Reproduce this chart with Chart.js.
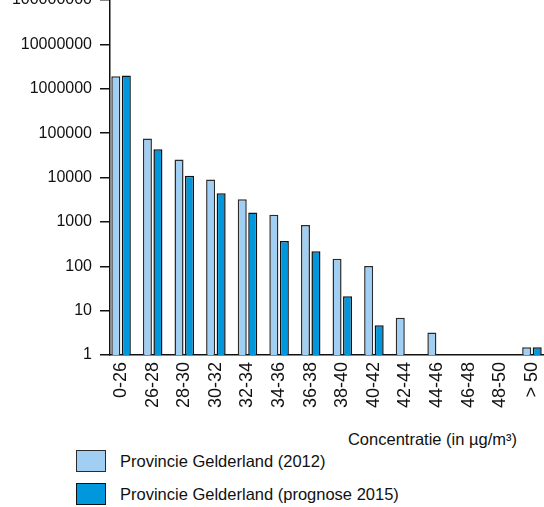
<!DOCTYPE html>
<html>
<head>
<meta charset="utf-8">
<script src="https://cdn.jsdelivr.net/npm/chart.js@4.4.1/dist/chart.umd.min.js"></script>
<style>
    body { margin: 0; background: #fff; font-family: "Liberation Sans", Arial, sans-serif; color: #111; }
    #wrap { position: relative; width: 544px; height: 507px; overflow: hidden; }
    #myChart { position: absolute; left: 0; top: 0; }
    #axisTitle { position: absolute; right: 27px; top: 430px; font-size: 16.5px; line-height: 19px; }
    #legend { position: absolute; left: 76px; top: 450px; }
    .item { display: flex; align-items: center; height: 22px; margin-bottom: 11px; font-size: 16.5px; }
    .box { width: 28px; height: 20px; border: 1px solid #333; margin-right: 14px; }
</style>
</head>
<body>
<div id="wrap">
    <canvas id="myChart" width="544" height="415"></canvas>
    <div id="axisTitle">Concentratie (in µg/m³)</div>
    <div id="legend"></div>
</div>
<script>
const categories = ['0-26', '26-28', '28-30', '30-32', '32-34', '34-36', '36-38',
    '38-40', '40-42', '42-44', '44-46', '46-48', '48-50', '> 50'];
const values2012 = [1920000, 76000, 25500, 9000, 3250, 1440, 845, 148, 101, 6.9, 3.2, null, null, 1.5];
const values2015 = [2000000, 43500, 11000, 4400, 1630, 370, 217, 21, 4.7, null, null, null, null, 1.5];
const yTicks = [1, 10, 100, 1000, 10000, 100000, 1000000, 10000000, 100000000];

const seriesLabels = ['Provincie Gelderland (2012)', 'Provincie Gelderland (prognose 2015)'];
const seriesColors = ['#a0cff3', '#0097dc'];
const seriesBorders = ['#2b2b2b', '#111111'];

const toPoints = vals => vals.map((v, i) => ({ x: i, y: v }));

const ctx = document.getElementById('myChart').getContext('2d');
const myChart = new Chart(ctx, {
    type: 'bar',
    data: {
        datasets: [values2012, values2015].map((vals, k) => ({
            label: seriesLabels[k],
            data: toPoints(vals),
            backgroundColor: seriesColors[k],
            borderColor: seriesBorders[k],
            borderWidth: 1.5,
            categoryPercentage: 0.665,
            barPercentage: 0.86
        }))
    },
    options: {
        responsive: false,
        animation: false,
        layout: { padding: { top: 0, right: 1, left: 0, bottom: 0 } },
        plugins: {
            legend: { display: false },
            tooltip: { enabled: false }
        },
        scales: {
            x: {
                type: 'linear',
                offset: false,
                bounds: 'data',
                min: -0.35,
                max: 13.35,
                grid: { display: false, drawTicks: false },
                border: { color: '#111', width: 1.5 },
                ticks: {
                    autoSkip: false,
                    minRotation: 90,
                    maxRotation: 90,
                    padding: 7,
                    color: '#111',
                    font: { family: 'Liberation Sans', size: 18 },
                    callback: v => categories[v]
                },
                afterBuildTicks: s => { s.ticks = categories.map((c, i) => ({ value: i })); },
                afterFit: s => { s.height = 60; s.paddingLeft = 0; s.paddingRight = 0; }
            },
            y: {
                type: 'logarithmic',
                min: 1,
                max: 100000000,
                grid: { drawOnChartArea: false, drawTicks: true, tickLength: 10, color: '#111', lineWidth: 1.5 },
                border: { color: '#111', width: 1.5 },
                ticks: {
                    padding: 8,
                    color: '#111',
                    font: { family: 'Liberation Sans', size: 16 },
                    callback: v => String(v)
                },
                afterBuildTicks: s => { s.ticks = yTicks.map(v => ({ value: v })); },
                afterFit: s => { s.width = 110; s.paddingTop = 0; s.paddingBottom = 0; }
            }
        }
    }
});

// Legend below the chart, built from the datasets
const legend = document.getElementById('legend');
myChart.data.datasets.forEach(ds => {
    const item = document.createElement('div');
    item.className = 'item';
    const box = document.createElement('div');
    box.className = 'box';
    box.style.background = ds.backgroundColor;
    box.style.borderColor = ds.borderColor;
    const txt = document.createElement('span');
    txt.textContent = ds.label;
    item.appendChild(box);
    item.appendChild(txt);
    legend.appendChild(item);
});
</script>
</body>
</html>
